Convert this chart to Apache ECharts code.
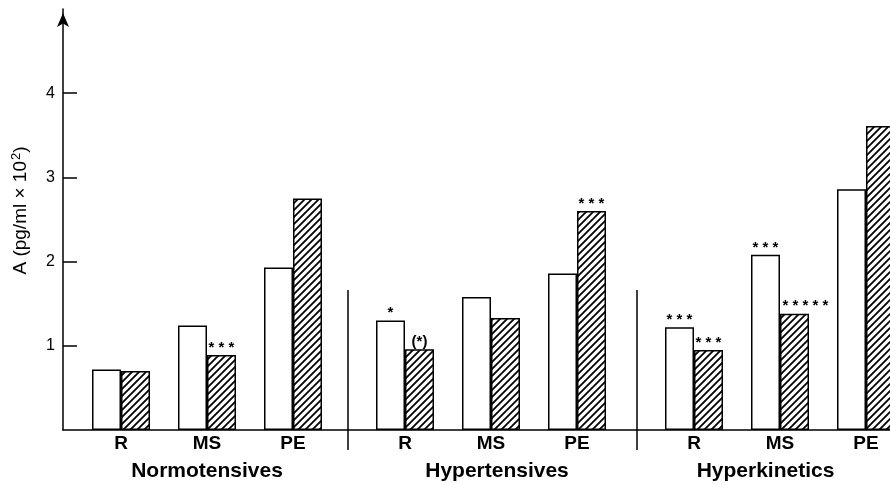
<!DOCTYPE html>
<html>
<head>
<meta charset="utf-8">
<script src="https://cdn.jsdelivr.net/npm/echarts@6/dist/echarts.min.js"></script>
<style>
html,body{margin:0;padding:0;background:#fff;}
#chart{width:890px;height:484px;}
</style>
</head>
<body>
<div id="chart"></div>
<script>
// ---- data ----
const categories = ['R', 'MS', 'PE'];
const groups = ['Normotensives', 'Hypertensives', 'Hyperkinetics'];
// open (white) bars, in order: group x category
const openValues = [0.72, 1.24, 1.93, 1.30, 1.58, 1.86, 1.22, 2.08, 2.86];
// hatched bars
const hatchedValues = [0.70, 0.89, 2.75, 0.96, 1.33, 2.60, 0.95, 1.38, 3.61];
// significance marks above bars
const openMarks = ['', '', '', '*', '', '', '***', '***', ''];
const hatchedMarks = ['', '***', '', '(*)', '', '***', '***', '*****', ''];
const yTicks = [1, 2, 3, 4];

// ---- styles ----
const FONT = 'Liberation Sans, Arial, Helvetica, sans-serif';
function hatchPattern() {
  const s = 7;
  const c = document.createElement('canvas');
  c.width = s; c.height = s;
  const ctx = c.getContext('2d');
  ctx.fillStyle = '#fff';
  ctx.fillRect(0, 0, s, s);
  ctx.strokeStyle = '#000';
  ctx.lineWidth = 1.8;
  ctx.beginPath();
  ctx.moveTo(-1, s + 1); ctx.lineTo(s + 1, -1);
  ctx.moveTo(-2, 2); ctx.lineTo(2, -2);
  ctx.moveTo(s - 2, s + 2); ctx.lineTo(s + 2, s - 2);
  ctx.stroke();
  return c;
}
const hatch = { image: hatchPattern(), repeat: 'repeat' };

function starText(m) {
  return m.indexOf('(') >= 0 ? m : m.split('').join(' ');
}
const wideMarkOffset = [11, 0];

const TOP = 9, BOTTOM = 54, YMAX = 5;
const groupLefts = [78, 362, 651];
const BANDW = 86;
const groupNamePad = [[0, 0, 0, 0], [0, 0, 0, 12], [0, 29, 0, 0]];

const grids = [{ left: 63, right: 0, top: TOP, bottom: BOTTOM, outerBoundsMode: 'none', containLabel: false }];
const xAxes = [{
  gridIndex: 0, type: 'value', min: 0, max: 1,
  axisLine: { show: true, lineStyle: { color: '#000', width: 1.5 } },
  axisTick: { show: false }, axisLabel: { show: false }, splitLine: { show: false }
}];
const yAxes = [{
  gridIndex: 0, type: 'value', min: 0, max: YMAX,
  axisLine: { show: true, lineStyle: { color: '#000', width: 1.5 },
    symbol: ['none', 'arrow'], symbolSize: [9, 14], symbolOffset: [0, -4] },
  axisTick: { show: true, inside: true, length: 14, customValues: yTicks,
    lineStyle: { color: '#000', width: 1.5 } },
  axisLabel: { customValues: yTicks, color: '#000', fontSize: 16, fontFamily: FONT, margin: 8 },
  splitLine: { show: false },
  name: 'A (pg/ml \u00d7 10{sup|2})', nameLocation: 'middle', nameRotate: 90, nameGap: 32,
  nameTextStyle: { color: '#000', fontSize: 19, fontFamily: FONT, padding: [0, 0, 0, 18],
    rich: { sup: { fontSize: 13, fontFamily: FONT, color: '#000', padding: [0, 0, 8, 1] } } }
}];
const series = [];

groups.forEach(function (g, gi) {
  const idx = gi + 1;
  grids.push({ left: groupLefts[gi], width: BANDW * categories.length, top: TOP, bottom: BOTTOM,
    outerBoundsMode: 'none', containLabel: false });
  xAxes.push({
    gridIndex: idx, type: 'category', data: categories,
    axisLine: { show: false }, axisTick: { show: false },
    axisLabel: { color: '#000', fontSize: 19, fontWeight: 'bold', fontFamily: FONT, margin: 4 },
    name: g, nameLocation: 'middle', nameGap: 31,
    nameTextStyle: { color: '#000', fontSize: 21, fontWeight: 'bold', fontFamily: FONT, padding: groupNamePad[gi] }
  });
  yAxes.push({ gridIndex: idx, type: 'value', min: 0, max: YMAX, show: false });
  const sl = gi * 3, el = sl + 3;
  function mk(vals, marks) {
    return vals.slice(sl, el).map(function (v, i) {
      const m = marks[sl + i];
      if (!m) return v;
      const label = { show: true, formatter: starText(m) };
      if (m.length > 3) label.offset = wideMarkOffset;
      return { value: v, label: label };
    });
  }
  const lbl = { show: false, position: 'top', distance: 0, color: '#000', fontSize: 15,
    fontWeight: 'bold', fontFamily: FONT };
  series.push({
    type: 'bar', xAxisIndex: idx, yAxisIndex: idx, barWidth: 29, barGap: '0%',
    data: mk(openValues, openMarks), label: lbl,
    itemStyle: { color: '#fff', borderColor: '#000', borderWidth: 1.5 }, silent: true
  });
  series.push({
    type: 'bar', xAxisIndex: idx, yAxisIndex: idx, barWidth: 29, barGap: '0%',
    data: mk(hatchedValues, hatchedMarks), label: lbl,
    itemStyle: { color: hatch, borderColor: '#000', borderWidth: 1.5 }, silent: true
  });
});

// separator grid between groups (ticks at group boundaries)
grids.push({ left: 348, right: 890 - 637, top: 290, bottom: 34, outerBoundsMode: 'none', containLabel: false });
xAxes.push({
  gridIndex: grids.length - 1, type: 'value', min: 0, max: 1, interval: 1,
  axisLine: { show: false },
  axisTick: { show: true, inside: true, length: 160, lineStyle: { color: '#000', width: 1.5 } },
  axisLabel: { show: false }, splitLine: { show: false }
});
yAxes.push({ gridIndex: grids.length - 1, type: 'value', min: 0, max: 1, show: false });

const chart = echarts.init(document.getElementById('chart'), null, { renderer: 'canvas' });
chart.setOption({
  backgroundColor: '#fff',
  animation: false,
  grid: grids, xAxis: xAxes, yAxis: yAxes, series: series
});
</script>
</body>
</html>
